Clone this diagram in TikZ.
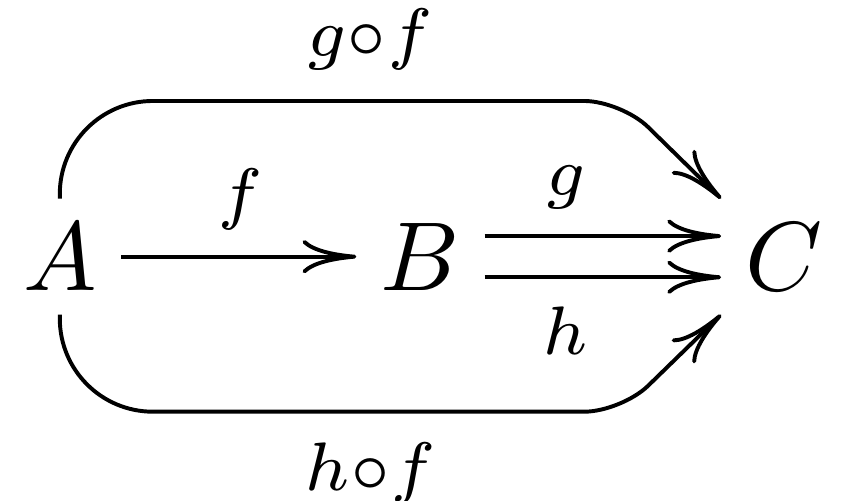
\documentclass[tikz,border=0pt]{standalone}
\usepackage{amsmath,amssymb}
\usepackage{tikz}
\usetikzlibrary{arrows.meta,positioning,calc}
\tikzset{
  objnode/.style={inner sep=2.3pt,anchor=base},
  lblnode/.style={anchor=base,inner sep=0pt},
  arr/.style={-{Computer Modern Rightarrow[length=5.5pt,width=3.4pt]},line width=0.4pt},
  bendarr/.style={arr}
}

\begin{document}
\begin{tikzpicture}
  \useasboundingbox (0,0) rectangle (86pt,-51.1pt);
  % objects
  \node[objnode] (A) at (6.1pt,-29.6pt) {$A$};
  \node[objnode] (B) at (42.9pt,-29.6pt) {$B$};
  \node[objnode] (C) at (80pt,-29.6pt) {$C$};
  % straight arrows
  \draw[arr] (A.east) -- (B.west);
  \draw[arr] ([yshift=2.1pt]B.east) -- ([yshift=2.1pt]C.west);
  \draw[arr] ([yshift=-2.1pt]B.east) -- ([yshift=-2.1pt]C.west);
  \node[lblnode] (lf) at (24.5pt,-22.1pt) {$\scriptstyle f$};
  \node[lblnode] (lg) at (57.7pt,-19.9pt) {$\scriptstyle g$};
  \node[lblnode] (lh) at (57.7pt,-36.2pt) {$\scriptstyle h$};
  % composites
  \coordinate (tc) at (63.4pt,-10.3pt);
  \coordinate (bc) at (63.4pt,-42.0pt);
  \draw[bendarr] (A.north) [rounded corners=9.5pt] -- (A.north |- tc)
    [rounded corners=3.8pt] -- (tc) -- (C.north west);
  \draw[bendarr] (A.south) [rounded corners=9.5pt] -- (A.south |- bc)
    [rounded corners=3.8pt] -- (bc) -- (C.south west);
  \node[lblnode] (lgf) at (37.7pt,-5.8pt) {$\scriptstyle g\circ f$};
  \node[lblnode] (lhf) at (37.8pt,-50.0pt) {$\scriptstyle h\circ f$};
\end{tikzpicture}
\end{document}
